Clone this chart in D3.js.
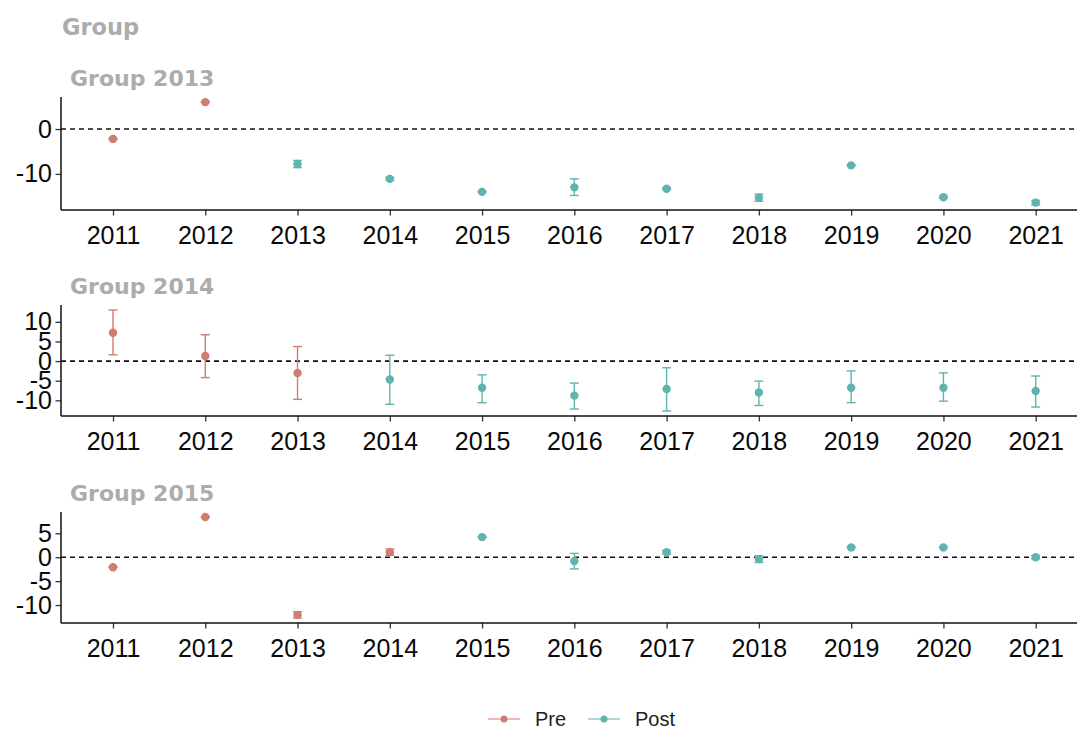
<!DOCTYPE html>
<html>
<head>
<meta charset="utf-8">
<script src="https://cdn.jsdelivr.net/npm/d3@7"></script>
<style>
  html, body { margin: 0; padding: 0; background: #fff; }
  svg { display: block; font-family: "Liberation Sans", Arial, sans-serif; }
</style>
</head>
<body>
<svg id="chart" width="1077" height="731"></svg>
<script>
// Event-study estimates by treatment cohort
const years = [2011, 2012, 2013, 2014, 2015, 2016, 2017, 2018, 2019, 2020, 2021];
const groupNames = ["Group 2013", "Group 2014", "Group 2015"];
const treatYears = [2013, 2014, 2015];

// Point estimates
const est2013 = [-2.2, 6.0, -7.8, -11.1, -14.0, -13.0, -13.3, -15.3, -8.1, -15.2, -16.4];
const est2014 = [7.2, 1.3, -3.05, -4.7, -6.8, -8.8, -7.1, -8.0, -6.8, -6.8, -7.6];
const est2015 = [-2.1, 8.4, -12.05, 1.05, 4.2, -0.8, 1.05, -0.4, 2.05, 2.05, 0.0];

// Lower / upper confidence bounds
const lo2013 = [-2.2, 6.0, -8.6, -11.4, -14.0, -14.8, -13.5, -16.1, -8.1, -15.4, -16.9];
const hi2013 = [-2.2, 6.0, -7.0, -10.8, -14.0, -11.1, -13.1, -14.5, -8.1, -15.0, -15.9];
const lo2014 = [1.6, -4.2, -9.75, -11.0, -10.6, -12.2, -12.7, -11.3, -10.6, -10.2, -11.7];
const hi2014 = [13.0, 6.7, 3.7, 1.5, -3.5, -5.6, -1.7, -5.1, -2.5, -3.0, -3.8];
const lo2015 = [-2.1, 8.4, -12.7, 0.4, 4.2, -2.45, 0.7, -1.1, 2.05, 2.05, -0.35];
const hi2015 = [-2.1, 8.4, -11.4, 1.7, 4.2, 0.8, 1.4, 0.3, 2.05, 2.05, 0.35];

const yTicks2013 = [0, -10];
const yTicks2014 = [10, 5, 0, -5, -10];
const yTicks2015 = [5, 0, -5, -10];

const periods = ["Pre", "Post"];
const periodColors = ["#d27c71", "#5fb4af"];

const estimates = [est2013, est2014, est2015];
const lows = [lo2013, lo2014, lo2015];
const highs = [hi2013, hi2014, hi2015];
const yTicks = [yTicks2013, yTicks2014, yTicks2015];

const svg = d3.select("#chart");
const color = d3.scaleOrdinal().domain(periods).range(periodColors);

// Integer format with a plain ASCII hyphen for negatives
const fmtInt = d3.formatLocale({ decimal: ".", thousands: "", grouping: [3], currency: ["", ""], minus: "-" }).format("d");

// Panel geometry
const axisLeft = 61, axisRight = 1077;
const panelTops = [97, 305, 512];
const panelBottoms = [210, 416, 623];

const x = d3.scaleLinear().domain([2011, 2021]).range([113, 1035.7]);

const titleFont = "'DejaVu Sans', Verdana, sans-serif";

// Main title
svg.append("text")
  .attr("x", 62).attr("y", 35)
  .attr("font-family", titleFont)
  .attr("font-size", 22.5).attr("font-weight", "bold")
  .attr("fill", "#acacac")
  .text("Group");

groupNames.forEach((name, gi) => {
  const rows = years.map((yr, i) => ({
    year: yr,
    est: estimates[gi][i],
    lo: lows[gi][i],
    hi: highs[gi][i],
    period: yr < treatYears[gi] ? "Pre" : "Post"
  }));
  const lo = d3.min(rows, d => d.lo), hi = d3.max(rows, d => d.hi);
  const pad = (hi - lo) * 0.05;
  const y = d3.scaleLinear().domain([lo - pad, hi + pad]).range([panelBottoms[gi], panelTops[gi]]);

  const g = svg.append("g");

  // Panel title
  g.append("text")
    .attr("x", 70).attr("y", panelTops[gi] - 11)
    .attr("font-family", titleFont)
    .attr("font-size", 22).attr("font-weight", "bold")
    .attr("fill", "#acacac")
    .text(name);

  // Zero reference line
  g.append("line")
    .attr("x1", axisLeft).attr("x2", axisRight)
    .attr("y1", y(0)).attr("y2", y(0))
    .attr("stroke", "#111").attr("stroke-width", 1.6)
    .attr("stroke-dasharray", "5,4");

  // Confidence intervals
  const eb = g.selectAll("g.eb").data(rows).join("g").attr("class", "eb")
    .attr("stroke", d => color(d.period)).attr("stroke-width", 1.4).attr("fill", "none");
  eb.append("line")
    .attr("x1", d => x(d.year)).attr("x2", d => x(d.year))
    .attr("y1", d => y(d.lo)).attr("y2", d => y(d.hi));
  eb.append("line")
    .attr("x1", d => x(d.year) - 4.5).attr("x2", d => x(d.year) + 4.5)
    .attr("y1", d => y(d.lo)).attr("y2", d => y(d.lo));
  eb.append("line")
    .attr("x1", d => x(d.year) - 4.5).attr("x2", d => x(d.year) + 4.5)
    .attr("y1", d => y(d.hi)).attr("y2", d => y(d.hi));

  // Point estimates
  g.selectAll("circle.pt").data(rows).join("circle").attr("class", "pt")
    .attr("cx", d => x(d.year)).attr("cy", d => y(d.est))
    .attr("r", 4.2).attr("fill", d => color(d.period));

  // Axes
  const xAxis = g.append("g")
    .attr("transform", `translate(0,${panelBottoms[gi]})`)
    .call(d3.axisBottom(x).tickValues(years).tickFormat(fmtInt).tickSize(5.5).tickPadding(10))
    .call(a => a.select(".domain").remove());
  xAxis.selectAll("text").attr("font-size", 25).attr("fill", "#0a0a0a").attr("dy", "0.72em");
  xAxis.selectAll("line").attr("stroke", "#333").attr("stroke-width", 1.3);
  g.append("line")
    .attr("x1", axisLeft).attr("x2", axisRight)
    .attr("y1", panelBottoms[gi]).attr("y2", panelBottoms[gi])
    .attr("stroke", "#111").attr("stroke-width", 1.5);

  const yAxis = g.append("g")
    .attr("transform", `translate(${axisLeft},0)`)
    .call(d3.axisLeft(y).tickValues(yTicks[gi]).tickFormat(fmtInt).tickSize(5.5).tickPadding(3.5))
    .call(a => a.select(".domain").remove());
  yAxis.selectAll("text").attr("font-size", 25).attr("fill", "#0a0a0a");
  yAxis.selectAll("line").attr("stroke", "#333").attr("stroke-width", 1.3);
  g.append("line")
    .attr("x1", axisLeft).attr("x2", axisLeft)
    .attr("y1", panelTops[gi]).attr("y2", panelBottoms[gi])
    .attr("stroke", "#111").attr("stroke-width", 1.5);
});

// Legend
const legendX = [488, 588];
const leg = svg.append("g").selectAll("g").data(periods).join("g")
  .attr("transform", (d, i) => `translate(${legendX[i]},719)`);
leg.append("line")
  .attr("x1", 0).attr("x2", 32).attr("y1", 0).attr("y2", 0)
  .attr("stroke", d => color(d)).attr("stroke-width", 1.4).attr("opacity", 0.75);
leg.append("circle")
  .attr("cx", 16).attr("cy", 0).attr("r", 3.5)
  .attr("fill", d => color(d));
leg.append("text")
  .attr("x", 47).attr("y", 0).attr("dy", "0.35em")
  .attr("font-size", 20).attr("fill", "#222")
  .text(d => d);
</script>
</body>
</html>
